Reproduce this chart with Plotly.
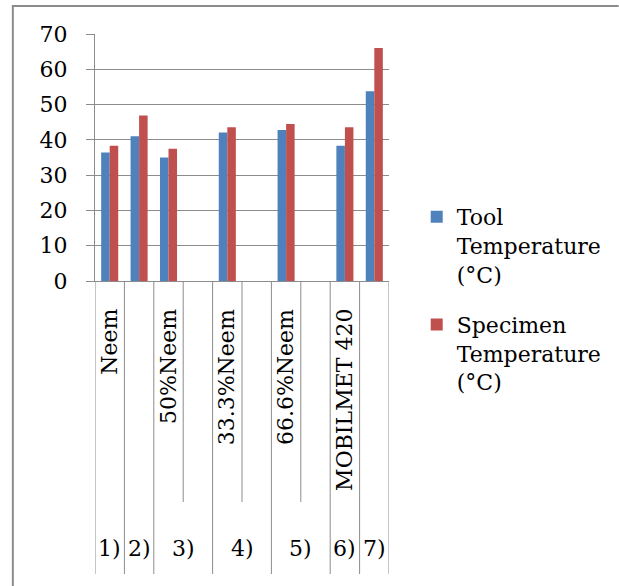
import plotly.graph_objects as go

# ---- data ----
slots = [1, 2, 3, 4, 5, 6, 7, 8, 9, 10]
inner_labels = ["Neem", "", "50%Neem", "", "33.3%Neem", "", "66.6%Neem", "", "MOBILMET 420", ""]
outer_labels = ["1)", "2)", "3)", "4)", "5)", "6)", "7)"]
outer_spans = [1, 1, 2, 2, 2, 1, 1]
tool_temp = [36.4, 41.0, 35.0, None, 42.1, None, 42.8, None, 38.3, 53.8]
spec_temp = [38.3, 46.9, 37.5, None, 43.6, None, 44.5, None, 43.6, 66.0]
series_names = ["Tool<br>Temperature<br>(°C)", "Specimen<br>Temperature<br>(°C)"]
y_ticks = [0, 10, 20, 30, 40, 50, 60, 70]

# ---- layout geometry (pixels) ----
W, H = 619, 586
L, R, T, B = 95, 392, 34, 281
FONT = "DejaVu Serif"
GRAY = "#8c8c8c"


def px(p):
    return (p - L) / (R - L)


def py(p):
    return (B - p) / (B - T)


fig = go.Figure()
fig.add_trace(go.Bar(x=slots, y=tool_temp, name=series_names[0],
                     marker=dict(color="#4F81BD", line=dict(width=0)),
                     legendgroup="a"))
fig.add_trace(go.Bar(x=slots, y=spec_temp, name=series_names[1],
                     marker=dict(color="#C0504D", line=dict(width=0)),
                     legendgroup="b"))

shapes = []
annotations = []

# inner labels
for s, lab in zip(slots, inner_labels):
    if lab:
        annotations.append(dict(x=s, y=py(307), xref="x", yref="paper",
                                text=lab, textangle=-90, showarrow=False,
                                xanchor="center", yanchor="top",
                                font=dict(family=FONT, size=22, color="#000")))

# dividers: long at group boundaries, short inside groups
bounds_long = [slots[0] - 0.5]
pos = slots[0] - 0.5
for lab, span in zip(outer_labels, outer_spans):
    for k in range(1, span):
        shapes.append(dict(type="line", xref="x", yref="paper",
                           x0=pos + k, x1=pos + k, y0=0, y1=py(502),
                           line=dict(color=GRAY, width=1)))
    annotations.append(dict(x=pos + span / 2, y=py(548), xref="x", yref="paper",
                            text=lab, showarrow=False,
                            xanchor="center", yanchor="middle",
                            font=dict(family=FONT, size=22, color="#000")))
    pos += span
    bounds_long.append(pos)
for b in bounds_long:
    shapes.append(dict(type="line", xref="x", yref="paper",
                       x0=b, x1=b, y0=0, y1=py(574),
                       line=dict(color=GRAY, width=1)))

# outer frame (top and left edges)
shapes.append(dict(type="line", xref="paper", yref="paper",
                   x0=px(11), x1=px(W + 5), y0=py(6), y1=py(6),
                   line=dict(color=GRAY, width=2)))
shapes.append(dict(type="line", xref="paper", yref="paper",
                   x0=px(12), x1=px(12), y0=py(6), y1=py(H + 5),
                   line=dict(color=GRAY, width=2)))

fig.update_layout(
    width=W, height=H,
    margin=dict(l=L, r=W - R, t=T, b=H - B, pad=0),
    paper_bgcolor="white", plot_bgcolor="white",
    barmode="group", bargap=0.42, bargroupgap=0,
    font=dict(family=FONT, size=22, color="#000"),
    showlegend=True,
    legend=dict(x=px(420), y=py(196), xanchor="left", yanchor="top",
                valign="top", tracegroupgap=19, itemsizing="constant",
                font=dict(family=FONT, size=22, color="#000"),
                bgcolor="rgba(0,0,0,0)"),
    xaxis=dict(range=[0.5, 10.5], showticklabels=False, ticks="",
               showgrid=False, zeroline=False,
               showline=True, linecolor=GRAY, linewidth=1),
    yaxis=dict(range=[0, 70], tickvals=y_ticks, ticks="outside", ticklen=8,
               tickcolor=GRAY, tickwidth=1, showgrid=True, gridcolor=GRAY,
               gridwidth=1, zeroline=False, showline=True, linecolor=GRAY,
               linewidth=1, ticklabelstandoff=14,
               tickfont=dict(family=FONT, size=22, color="#000")),
    shapes=shapes,
    annotations=annotations,
)

fig.write_html("out.html")
